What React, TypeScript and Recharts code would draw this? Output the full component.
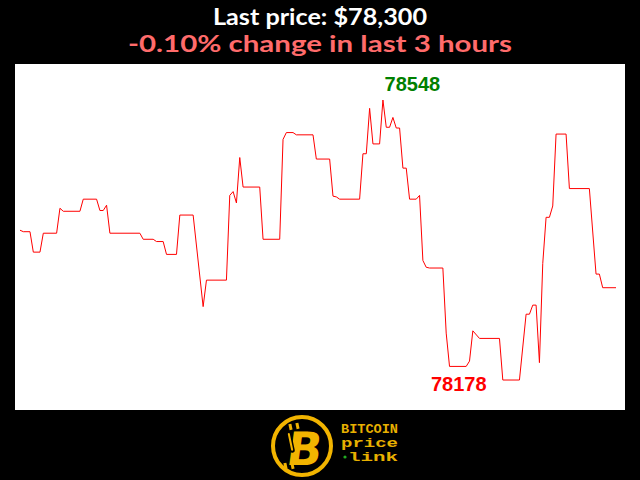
import React from "react";
import { LineChart, Line, XAxis, YAxis, ReferenceDot } from "recharts";

const titleText = "Last price: $78,300";
const subtitleText = "-0.10% change in last 3 hours";

// minute index (0..179 over the last 3 hours) and price at each vertex of the trace
const minutes = [
  0, 1, 3, 4, 6, 7, 11, 12, 13, 18,
  19, 23, 24, 25, 26, 27, 36, 37, 40, 41,
  43, 44, 47, 48, 52, 55, 56, 62, 63, 64,
  65, 66, 67, 72, 73, 78, 79, 80, 82, 83,
  88, 89, 93, 94, 95, 96, 102, 103, 104, 105,
  106, 108, 109, 110, 111, 112, 113, 114, 115, 116,
  117, 119, 120, 121, 122, 123, 127, 128, 129, 134,
  135, 136, 138, 144, 145, 150, 152, 153, 154, 155,
  156, 157, 158, 159, 160, 161, 164, 165, 171, 173,
  174, 175, 179,
];
const prices = [
  78376, 78374, 78374, 78347, 78347, 78372, 78372, 78405, 78401, 78401,
  78417, 78417, 78402, 78402, 78409, 78372, 78372, 78364, 78364, 78361,
  78361, 78344, 78344, 78396, 78396, 78275, 78310, 78310, 78422, 78427,
  78412, 78472, 78433, 78433, 78364, 78364, 78496, 78505, 78505, 78502,
  78502, 78470, 78470, 78421, 78420, 78417, 78417, 78477, 78477, 78537,
  78490, 78490, 78548, 78512, 78512, 78525, 78511, 78511, 78458, 78458,
  78417, 78417, 78422, 78336, 78327, 78326, 78326, 78240, 78196, 78196,
  78203, 78243, 78233, 78233, 78178, 78178, 78265, 78265, 78277, 78277,
  78201, 78332, 78393, 78393, 78408, 78503, 78503, 78431, 78431, 78318,
  78318, 78300, 78300,
];

const maxMinute = 109;
const maxPrice = 78548;
const minMinute = 145;
const minPrice = 78178;

const xDomain = [-1.5, 181.7];
const yDomain = [78138.4, 78595.6];

const logoLines = ["BITCOIN", "price", "link"];

const data = minutes.map((m, i) => ({ m, p: prices[i] }));

const makeLabel = (text: string, color: string, dx: number, dy: number) => (props: any) => (
  <text
    x={props.cx + dx}
    y={props.cy + dy}
    textAnchor="middle"
    fill={color}
    fontFamily="'Liberation Sans', Arial, sans-serif"
    fontWeight="bold"
    fontSize={20}
  >
    {text}
  </text>
);

export default function App() {
  return (
    <div
      style={{
        position: "absolute",
        left: 0,
        top: 0,
        width: 640,
        height: 480,
        background: "#000",
        overflow: "hidden",
      }}
    >
      <svg width={640} height={64} style={{ position: "absolute", left: 0, top: 0 }}>
        <text
          x={320}
          y={25}
          textAnchor="middle"
          fill="#ffffff"
          fontFamily="Lato, 'Open Sans', sans-serif"
          fontWeight="bold"
          fontSize={23}
          textLength={214}
          lengthAdjust="spacingAndGlyphs"
        >
          {titleText}
        </text>
        <text
          x={320}
          y={52}
          textAnchor="middle"
          fill="#ff6b6b"
          fontFamily="Lato, 'Open Sans', sans-serif"
          fontWeight="bold"
          fontSize={23}
          textLength={384}
          lengthAdjust="spacingAndGlyphs"
        >
          {subtitleText}
        </text>
      </svg>
      <div style={{ position: "absolute", left: 15, top: 64 }}>
        <LineChart
          width={610}
          height={346}
          data={data}
          margin={{ top: 0, right: 0, bottom: 0, left: 0 }}
          style={{ background: "#ffffff" }}
        >
          <XAxis dataKey="m" type="number" domain={xDomain} hide />
          <YAxis type="number" domain={yDomain} hide />
          <Line
            type="linear"
            dataKey="p"
            stroke="#ff0000"
            strokeWidth={1}
            dot={false}
            isAnimationActive={false}
          />
          <ReferenceDot
            x={maxMinute}
            y={maxPrice}
            r={0}
            shape={makeLabel(String(maxPrice), "#008000", 29.5, -9)}
          />
          <ReferenceDot
            x={minMinute}
            y={minPrice}
            r={0}
            shape={makeLabel(String(minPrice), "#ff0000", -44, 11)}
          />
        </LineChart>
      </div>
      <svg width={640} height={70} style={{ position: "absolute", left: 0, top: 410 }}>
        <g transform="translate(0,-410)">
          <circle cx={302} cy={446} r={29} fill="none" stroke="#f2b400" strokeWidth={4} />
          <rect x={289} y={424} width={3} height={6} fill="#f2b400" transform="rotate(-12 290 427)" />
          <rect x={296} y={423} width={3} height={6} fill="#f2b400" transform="rotate(-12 297 426)" />
          <rect x={284} y={463} width={3} height={6} fill="#f2b400" transform="rotate(-12 285 466)" />
          <rect x={291} y={463} width={3} height={6} fill="#f2b400" transform="rotate(-12 292 466)" />
          <text
            x={304}
            y={465}
            textAnchor="middle"
            fill="#f2b400"
            fontFamily="'DejaVu Sans', sans-serif"
            fontWeight="bold"
            fontSize={46}
            transform="skewX(-8) translate(64,0)"
          >
            B
          </text>
          <rect x={288} y={431} width={5} height={22} rx={2.5} fill="#000" transform="rotate(-12 290 442)" />
          <rect x={289.5} y={433} width={2} height={18} rx={1} fill="#f2b400" transform="rotate(-12 290 442)" />
          <text
            x={341}
            y={433}
            fill="#e8b000"
            fontFamily="'Liberation Mono', 'DejaVu Sans Mono', monospace"
            fontWeight="bold"
            fontSize={12}
            textLength={57}
            lengthAdjust="spacingAndGlyphs"
          >
            {logoLines[0]}
          </text>
          <text
            x={341}
            y={447}
            fill="#e8b000"
            fontFamily="'Liberation Mono', 'DejaVu Sans Mono', monospace"
            fontWeight="bold"
            fontSize={13}
            textLength={57}
            lengthAdjust="spacingAndGlyphs"
          >
            {logoLines[1]}
          </text>
          <circle cx={345} cy={457} r={1.6} fill="#22aa22" />
          <text
            x={348}
            y={461}
            fill="#e8b000"
            fontFamily="'Liberation Mono', 'DejaVu Sans Mono', monospace"
            fontWeight="bold"
            fontSize={13}
            textLength={50}
            lengthAdjust="spacingAndGlyphs"
          >
            {logoLines[2]}
          </text>
        </g>
      </svg>
    </div>
  );
}
